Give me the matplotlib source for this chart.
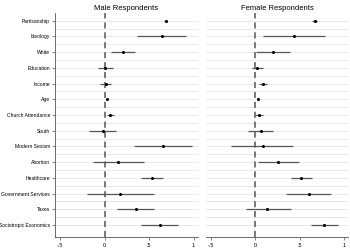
import matplotlib.pyplot as plt
import numpy as np

plt.rcParams["font.family"] = ["Liberation Sans", "DejaVu Sans"]

labels = ["Partisanship", "Ideology", "White", "Education", "Income", "Age",
          "Church Attendance", "South", "Modern Sexism", "Abortion", "Healthcare",
          "Government Services", "Taxes", "Sociotropic Economics"]

male_est = [0.685, 0.64, 0.21, 0.0, 0.015, 0.026, 0.064, -0.02, 0.655, 0.146,
            0.535, 0.17, 0.35, 0.62]
male_lo = [0.665, 0.36, 0.07, -0.07, -0.05, 0.016, 0.03, -0.17, 0.33, -0.13,
           0.41, -0.20, 0.14, 0.41]
male_hi = [0.705, 0.91, 0.345, 0.09, 0.075, 0.036, 0.11, 0.13, 0.98, 0.44,
           0.655, 0.55, 0.56, 0.83]

female_est = [0.67, 0.44, 0.205, 0.015, 0.09, 0.026, 0.037, 0.06, 0.082, 0.255,
              0.52, 0.61, 0.135, 0.78]
female_lo = [0.645, 0.09, 0.01, -0.04, 0.045, 0.014, -0.003, -0.08, -0.27, 0.03,
             0.40, 0.35, -0.105, 0.63]
female_hi = [0.695, 0.79, 0.39, 0.09, 0.13, 0.038, 0.09, 0.2, 0.43, 0.49,
             0.64, 0.86, 0.40, 0.93]

xticks = [-0.5, 0, 0.5, 1]
xtick_labels = ["-.5", "0", ".5", "1"]

fig = plt.figure(figsize=(3.5, 2.48), dpi=100)
ax1 = fig.add_axes([0.157, 0.044, 0.409, 0.904])
ax2 = fig.add_axes([0.589, 0.044, 0.406, 0.904])

y = np.arange(len(labels))

for ax, est, lo, hi, title in [(ax1, male_est, male_lo, male_hi, "Male Respondents"),
                               (ax2, female_est, female_lo, female_hi, "Female Respondents")]:
    ax.set_xlim(-0.556, 1.05)
    ax.set_ylim(len(labels) - 0.23, -0.5)
    ax.set_yticks(y, minor=False)
    ax.set_yticks(y[:-1] + 0.5, minor=True)
    ax.grid(True, axis="y", which="both", color="#e6e6e6", linewidth=0.6)
    ax.set_axisbelow(True)
    ax.axvline(0, color="#555555", linewidth=1.1, linestyle=(0, (4, 2.5)), zorder=1)
    ax.hlines(y, lo, hi, color="#555555", linewidth=0.9, zorder=2)
    ax.scatter(est, y, color="black", s=5, zorder=3, linewidths=0)
    ax.set_xticks(xticks)
    ax.set_xticklabels(xtick_labels)
    ax.tick_params(axis="x", labelsize=4, length=2.5, width=0.5, color="#555555", pad=1.5)
    ax.tick_params(axis="y", which="minor", length=0)
    ax.set_title(title, fontsize=5.5, pad=2)
    for s in ["top", "right"]:
        ax.spines[s].set_visible(False)
    ax.spines["bottom"].set_color("#555555")
    ax.spines["bottom"].set_linewidth(0.6)

ax1.set_yticklabels(labels)
ax1.tick_params(axis="y", labelsize=3.6, length=2.5, width=0.5, color="#555555", pad=1)
ax1.spines["left"].set_color("#555555")
ax1.spines["left"].set_linewidth(0.6)
ax2.set_yticklabels([])
ax2.tick_params(axis="y", which="major", length=0)
ax2.spines["left"].set_visible(False)

plt.savefig("out.png", dpi=100)
